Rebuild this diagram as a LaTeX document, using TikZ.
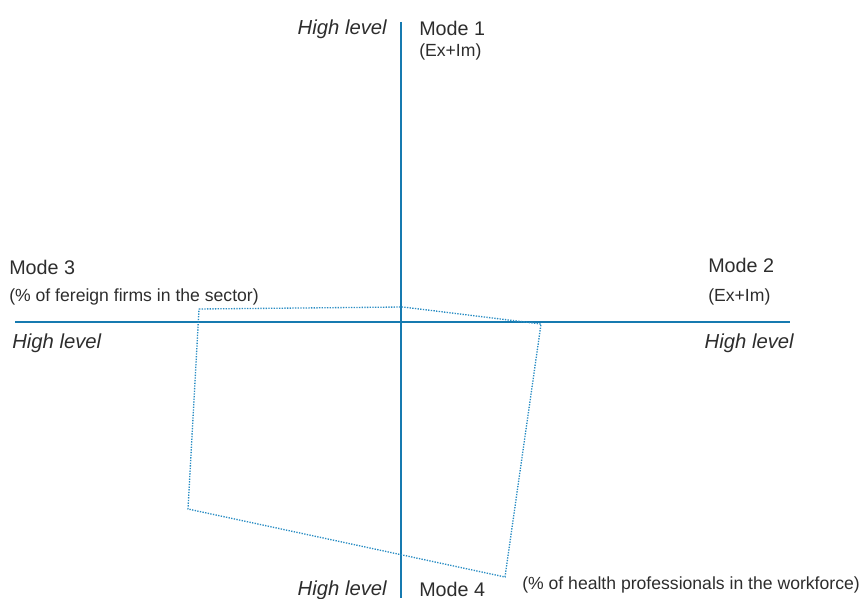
\documentclass[tikz,border=0pt]{standalone}
\usepackage{fontspec}
\setmainfont{Liberation Sans}
\usepackage{xcolor}
\definecolor{axisblue}{RGB}{22,122,176}
\definecolor{dotblue}{RGB}{40,140,195}
\definecolor{txtgray}{RGB}{45,45,45}

\begin{document}
\begin{tikzpicture}[x=0.75pt,y=-0.75pt,
  axis/.style={axisblue,line width=2.2pt},
  profile/.style={dotblue,densely dotted,line width=1pt},
  mode/.style={inner sep=0pt,text=txtgray,font=\fontsize{14.8}{16}\selectfont},
  note/.style={inner sep=0pt,text=txtgray,font=\fontsize{13.2}{15}\selectfont},
  level/.style={inner sep=0pt,text=txtgray,font=\fontsize{15.2}{17}\selectfont\itshape}]
\useasboundingbox (0,0) rectangle (865,599);
% axes
\coordinate (top) at (401,22);
\coordinate (bottom) at (401,598);
\coordinate (left) at (15,322);
\coordinate (right) at (790,322);
\draw[axis] (top) -- (bottom);
\draw[axis] (left) -- (right);
% country profile
\coordinate (p3) at (199,309);
\coordinate (p1) at (403,307);
\coordinate (p2) at (541,324);
\coordinate (p4) at (505,577);
\coordinate (p5) at (188,509);
\draw[profile] (p3) -- (p1) -- (p2) -- (p4) -- (p5) -- cycle;
% labels
\node[level,anchor=east] (hl1) at (387,29) {High level};
\node[mode,anchor=west] (m1) at (419,28) {Mode 1};
\node[note,anchor=west] (n1) at (419,52) {(Ex+Im)};
\node[mode,anchor=west] (m3) at (9,267) {Mode 3};
\node[note,anchor=west] (n3) at (9,297) {(\% of fereign firms in the sector)};
\node[level,anchor=west] (hl3) at (12,343) {High level};
\node[mode,anchor=west] (m2) at (708,265) {Mode 2};
\node[note,anchor=west] (n2) at (708,297) {(Ex+Im)};
\node[level,anchor=east] (hl2) at (794,343) {High level};
\node[level,anchor=east] (hl4) at (387,590) {High level};
\node[mode,anchor=west] (m4) at (419,589) {Mode 4};
\node[note,anchor=west] (n4) at (522,585) {(\% of health professionals in the workforce)};
\end{tikzpicture}
\end{document}
